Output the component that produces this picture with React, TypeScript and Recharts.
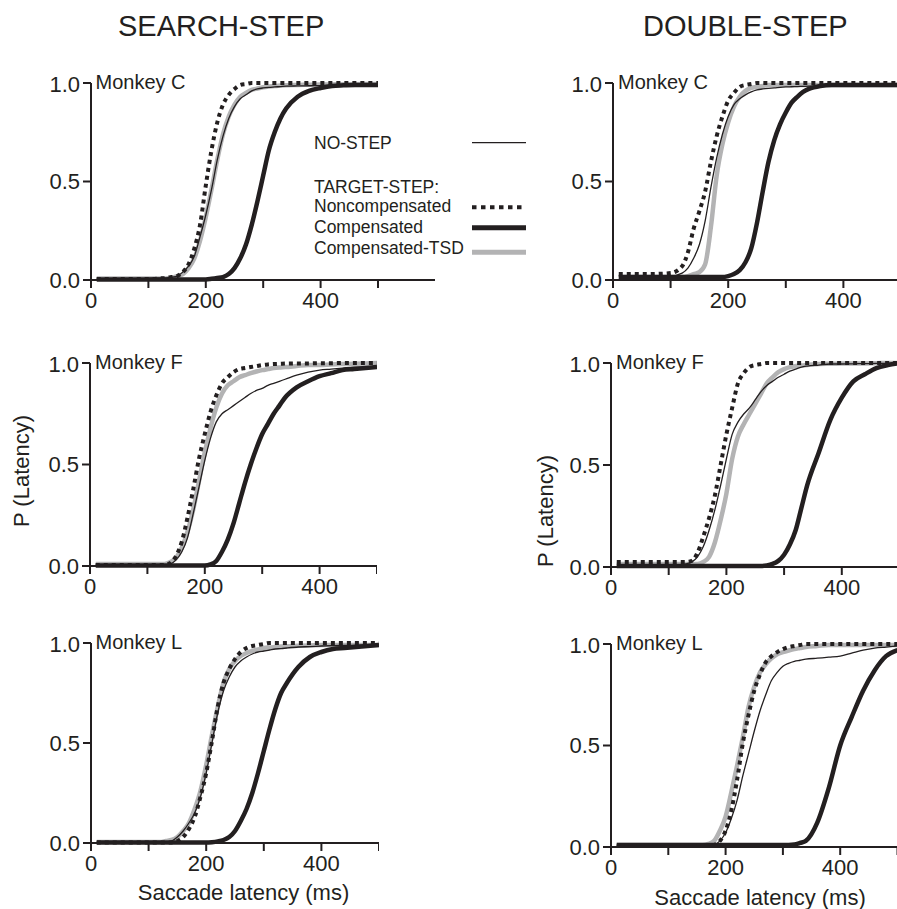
import { LineChart, Line, XAxis, YAxis } from "recharts";

// saccade latency grid (ms)
const LAT = [10, 60, 100, 120, 130, 140, 150, 160, 170, 180, 190, 200, 210, 220, 230, 240, 250, 260, 270, 280, 290, 300, 310, 320, 330, 340, 360, 380, 400, 420, 440, 460, 480, 500];

// SEARCH-STEP, monkey C
const C_SEARCH_NOSTEP = [0.005, 0.005, 0.008, 0.01, 0.01, 0.015, 0.02, 0.04, 0.07, 0.12, 0.22, 0.33, 0.46, 0.61, 0.73, 0.82, 0.88, 0.92, 0.94, 0.96, 0.97, 0.975, 0.978, 0.98, 0.982, 0.984, 0.985, 0.986, 0.987, 0.988, 0.988, 0.989, 0.99, 0.99];
const C_SEARCH_NONCOMP = [0.005, 0.005, 0.005, 0.008, 0.01, 0.015, 0.02, 0.04, 0.08, 0.16, 0.28, 0.48, 0.66, 0.8, 0.89, 0.94, 0.97, 0.99, 0.995, 1, 1, 1, 1, 1, 1, 1, 1, 1, 1, 1, 1, 1, 1, 1];
const C_SEARCH_COMP = [0.003, 0.003, 0.003, 0.003, 0.003, 0.003, 0.003, 0.003, 0.003, 0.003, 0.003, 0.003, 0.006, 0.01, 0.015, 0.03, 0.06, 0.11, 0.18, 0.28, 0.4, 0.53, 0.66, 0.75, 0.82, 0.87, 0.93, 0.96, 0.975, 0.985, 0.988, 0.99, 0.99, 0.99];
const C_SEARCH_TSD = [0.008, 0.008, 0.008, 0.008, 0.008, 0.012, 0.02, 0.03, 0.06, 0.11, 0.2, 0.32, 0.46, 0.61, 0.74, 0.83, 0.89, 0.93, 0.95, 0.965, 0.972, 0.978, 0.982, 0.985, 0.987, 0.989, 0.99, 0.991, 0.992, 0.993, 0.994, 0.994, 0.995, 0.995];

// DOUBLE-STEP, monkey C
const C_DOUBLE_NOSTEP = [0.02, 0.02, 0.02, 0.035, 0.06, 0.11, 0.18, 0.3, 0.47, 0.62, 0.74, 0.83, 0.89, 0.92, 0.94, 0.955, 0.965, 0.97, 0.973, 0.975, 0.978, 0.98, 0.981, 0.982, 0.983, 0.984, 0.985, 0.985, 0.985, 0.986, 0.986, 0.986, 0.987, 0.987];
const C_DOUBLE_NONCOMP = [0.03, 0.03, 0.035, 0.07, 0.14, 0.26, 0.35, 0.45, 0.6, 0.73, 0.83, 0.91, 0.95, 0.98, 0.99, 0.995, 1, 1, 1, 1, 1, 1, 1, 1, 1, 1, 1, 1, 1, 1, 1, 1, 1, 1];
const C_DOUBLE_COMP = [0.015, 0.015, 0.015, 0.015, 0.015, 0.015, 0.015, 0.015, 0.015, 0.015, 0.015, 0.02, 0.03, 0.05, 0.09, 0.16, 0.29, 0.45, 0.6, 0.71, 0.79, 0.85, 0.9, 0.93, 0.955, 0.97, 0.985, 0.99, 0.99, 0.99, 0.99, 0.99, 0.99, 0.99];
const C_DOUBLE_TSD = [0.015, 0.015, 0.015, 0.015, 0.02, 0.03, 0.04, 0.08, 0.27, 0.53, 0.69, 0.8, 0.88, 0.93, 0.96, 0.975, 0.98, 0.985, 0.99, 0.99, 0.99, 0.99, 0.99, 0.99, 0.99, 0.99, 0.99, 0.99, 0.99, 0.99, 0.99, 0.99, 0.99, 0.99];

// SEARCH-STEP, monkey F
const F_SEARCH_NOSTEP = [0.005, 0.005, 0.005, 0.005, 0.005, 0.01, 0.03, 0.07, 0.14, 0.26, 0.39, 0.52, 0.63, 0.71, 0.75, 0.77, 0.79, 0.81, 0.83, 0.85, 0.865, 0.875, 0.89, 0.9, 0.91, 0.92, 0.94, 0.955, 0.965, 0.97, 0.975, 0.98, 0.98, 0.985];
const F_SEARCH_NONCOMP = [0.005, 0.005, 0.005, 0.005, 0.005, 0.015, 0.05, 0.12, 0.24, 0.38, 0.53, 0.65, 0.76, 0.84, 0.9, 0.93, 0.955, 0.97, 0.975, 0.98, 0.985, 0.99, 0.993, 0.995, 0.996, 0.997, 0.998, 0.998, 0.999, 0.999, 1, 1, 1, 1];
const F_SEARCH_COMP = [0.002, 0.002, 0.002, 0.002, 0.002, 0.002, 0.002, 0.002, 0.002, 0.002, 0.002, 0.002, 0.008, 0.025, 0.07, 0.13, 0.21, 0.31, 0.41, 0.5, 0.58, 0.65, 0.7, 0.75, 0.79, 0.83, 0.88, 0.91, 0.935, 0.95, 0.965, 0.97, 0.975, 0.98];
const F_SEARCH_TSD = [0.01, 0.01, 0.01, 0.01, 0.01, 0.02, 0.04, 0.09, 0.17, 0.28, 0.42, 0.56, 0.68, 0.78, 0.85, 0.89, 0.91, 0.93, 0.94, 0.95, 0.958, 0.965, 0.97, 0.975, 0.978, 0.98, 0.985, 0.99, 0.99, 0.993, 0.995, 0.996, 0.998, 1];

// DOUBLE-STEP, monkey F
const F_DOUBLE_NOSTEP = [0.01, 0.01, 0.01, 0.01, 0.015, 0.025, 0.05, 0.1, 0.18, 0.28, 0.4, 0.53, 0.65, 0.71, 0.75, 0.78, 0.82, 0.86, 0.89, 0.91, 0.93, 0.945, 0.96, 0.97, 0.98, 0.985, 0.99, 0.995, 0.995, 0.996, 0.997, 0.998, 0.998, 0.999];
const F_DOUBLE_NONCOMP = [0.025, 0.025, 0.025, 0.025, 0.025, 0.03, 0.07, 0.15, 0.24, 0.35, 0.5, 0.65, 0.78, 0.9, 0.95, 0.98, 0.99, 0.995, 1, 1, 1, 1, 1, 1, 1, 1, 1, 1, 1, 1, 1, 1, 1, 1];
const F_DOUBLE_COMP = [0.005, 0.005, 0.005, 0.005, 0.005, 0.005, 0.005, 0.005, 0.005, 0.005, 0.005, 0.005, 0.005, 0.005, 0.005, 0.005, 0.005, 0.005, 0.008, 0.015, 0.03, 0.06, 0.11, 0.18, 0.29, 0.4, 0.56, 0.72, 0.83, 0.91, 0.945, 0.975, 0.99, 1];
const F_DOUBLE_TSD = [0.015, 0.015, 0.015, 0.015, 0.015, 0.015, 0.015, 0.025, 0.05, 0.12, 0.23, 0.36, 0.53, 0.64, 0.7, 0.75, 0.8, 0.85, 0.9, 0.93, 0.955, 0.97, 0.98, 0.985, 0.988, 0.99, 0.995, 0.996, 0.997, 0.998, 0.998, 0.999, 1, 1];

// SEARCH-STEP, monkey L
const L_SEARCH_NOSTEP = [0.005, 0.005, 0.005, 0.005, 0.005, 0.01, 0.03, 0.06, 0.1, 0.15, 0.23, 0.35, 0.5, 0.65, 0.76, 0.83, 0.88, 0.91, 0.93, 0.945, 0.955, 0.96, 0.965, 0.97, 0.972, 0.975, 0.98, 0.982, 0.985, 0.987, 0.988, 0.989, 0.99, 0.99];
const L_SEARCH_NONCOMP = [0.003, 0.003, 0.003, 0.003, 0.003, 0.003, 0.01, 0.03, 0.07, 0.13, 0.23, 0.35, 0.51, 0.68, 0.8, 0.87, 0.92, 0.955, 0.975, 0.985, 0.99, 0.995, 1, 1, 1, 1, 1, 1, 1, 1, 1, 1, 1, 1];
const L_SEARCH_COMP = [0.002, 0.002, 0.002, 0.002, 0.002, 0.002, 0.002, 0.002, 0.002, 0.002, 0.002, 0.002, 0.004, 0.008, 0.015, 0.03, 0.06, 0.11, 0.17, 0.25, 0.35, 0.46, 0.57, 0.67, 0.75, 0.8, 0.88, 0.93, 0.955, 0.97, 0.975, 0.98, 0.985, 0.99];
const L_SEARCH_TSD = [0.005, 0.005, 0.005, 0.005, 0.01, 0.015, 0.03, 0.06, 0.1, 0.17, 0.26, 0.39, 0.54, 0.68, 0.8, 0.87, 0.91, 0.935, 0.95, 0.96, 0.968, 0.975, 0.978, 0.98, 0.982, 0.984, 0.986, 0.988, 0.99, 0.99, 0.99, 0.99, 0.99, 0.99];

// DOUBLE-STEP, monkey L
const L_DOUBLE_NOSTEP = [0.005, 0.005, 0.005, 0.005, 0.005, 0.005, 0.005, 0.005, 0.005, 0.01, 0.03, 0.07, 0.14, 0.23, 0.35, 0.46, 0.57, 0.67, 0.75, 0.82, 0.86, 0.89, 0.905, 0.915, 0.92, 0.925, 0.93, 0.935, 0.94, 0.955, 0.97, 0.98, 0.985, 0.99];
const L_DOUBLE_NONCOMP = [0.005, 0.005, 0.005, 0.005, 0.005, 0.005, 0.005, 0.005, 0.005, 0.01, 0.03, 0.08, 0.18, 0.33, 0.51, 0.65, 0.77, 0.85, 0.91, 0.94, 0.96, 0.975, 0.985, 0.99, 0.995, 1, 1, 1, 1, 1, 1, 1, 1, 1];
const L_DOUBLE_COMP = [0.01, 0.01, 0.01, 0.01, 0.01, 0.01, 0.01, 0.01, 0.01, 0.01, 0.01, 0.01, 0.01, 0.01, 0.01, 0.01, 0.01, 0.01, 0.01, 0.01, 0.01, 0.01, 0.01, 0.012, 0.02, 0.03, 0.12, 0.29, 0.5, 0.64, 0.77, 0.87, 0.94, 0.97];
const L_DOUBLE_TSD = [0.01, 0.01, 0.01, 0.01, 0.01, 0.01, 0.01, 0.01, 0.015, 0.03, 0.08, 0.15, 0.27, 0.4, 0.54, 0.69, 0.79, 0.86, 0.9, 0.93, 0.95, 0.96, 0.968, 0.975, 0.98, 0.985, 0.99, 0.995, 0.995, 0.995, 0.995, 0.995, 0.995, 0.995];

const X_TICKS_SHORT = [0, 100, 200, 300, 400, 500];
const X_TICKS_LONG = [0, 100, 200, 300, 400, 500, 600];
const X_LABELS = [0, 200, 400];
const Y_TICKS = [0, 0.5, 1];

const INK = "#231f20";
const GRAY = "#b3b3b4";
const FONT = '"Liberation Sans", Arial, Helvetica, sans-serif';

type PanelProps = {
  x0: number; top: number; bottom: number; px100: number; xMax: number; ticks: number[];
  noStep: number[]; nonComp: number[]; comp: number[]; tsd: number[];
};

const YW = 80, XH = 40, MT = 12;

function Panel(p: PanelProps) {
  const plotW = (p.xMax / 100) * p.px100;
  const plotH = p.bottom - p.top;
  const data = LAT.map((lat, i) => ({
    lat, noStep: p.noStep[i], nonComp: p.nonComp[i], comp: p.comp[i], tsd: p.tsd[i],
  }));
  const axisStyle = { stroke: INK, strokeWidth: 2 };
  const tickStyle = { fill: INK, fontSize: 22, fontFamily: FONT };
  return (
    <div style={{ position: "absolute", left: p.x0 - YW, top: p.top - MT }}>
      <LineChart width={YW + plotW} height={MT + plotH + XH} data={data}
        margin={{ top: MT, right: 0, bottom: 0, left: 0 }}>
        <XAxis type="number" dataKey="lat" domain={[0, p.xMax]} ticks={p.ticks} allowDataOverflow
          tickFormatter={(v: number) => (X_LABELS.includes(v) ? String(v) : "")}
          height={XH} tickSize={8} tickMargin={4} axisLine={axisStyle} tickLine={axisStyle} tick={tickStyle} />
        <YAxis type="number" domain={[0, 1]} ticks={Y_TICKS} tickFormatter={(v: number) => v.toFixed(1)}
          width={YW} tickSize={8} tickMargin={3} axisLine={axisStyle} tickLine={axisStyle} tick={tickStyle} />
        <Line dataKey="tsd" type="monotone" stroke={GRAY} strokeWidth={4.5} dot={false} activeDot={false} isAnimationActive={false} />
        <Line dataKey="comp" type="monotone" stroke={INK} strokeWidth={4.5} dot={false} activeDot={false} isAnimationActive={false} />
        <Line dataKey="nonComp" type="monotone" stroke={INK} strokeWidth={4} strokeDasharray="4 4" dot={false} activeDot={false} isAnimationActive={false} />
        <Line dataKey="noStep" type="monotone" stroke={INK} strokeWidth={1.3} dot={false} activeDot={false} isAnimationActive={false} />
      </LineChart>
    </div>
  );
}

const PANELS = [
  { x0: 90.5, top: 83, bottom: 280, px100: 57.4, xMax: 600, ticks: X_TICKS_SHORT, monkey: "Monkey C",
    noStep: C_SEARCH_NOSTEP, nonComp: C_SEARCH_NONCOMP, comp: C_SEARCH_COMP, tsd: C_SEARCH_TSD },
  { x0: 613, top: 83, bottom: 280, px100: 57.6, xMax: 600, ticks: X_TICKS_LONG, monkey: "Monkey C",
    noStep: C_DOUBLE_NOSTEP, nonComp: C_DOUBLE_NONCOMP, comp: C_DOUBLE_COMP, tsd: C_DOUBLE_TSD },
  { x0: 90, top: 363, bottom: 566, px100: 57.4, xMax: 500, ticks: X_TICKS_SHORT, monkey: "Monkey F",
    noStep: F_SEARCH_NOSTEP, nonComp: F_SEARCH_NONCOMP, comp: F_SEARCH_COMP, tsd: F_SEARCH_TSD },
  { x0: 611, top: 363, bottom: 567, px100: 57.7, xMax: 600, ticks: X_TICKS_LONG, monkey: "Monkey F",
    noStep: F_DOUBLE_NOSTEP, nonComp: F_DOUBLE_NONCOMP, comp: F_DOUBLE_COMP, tsd: F_DOUBLE_TSD },
  { x0: 90.5, top: 643, bottom: 843, px100: 57.6, xMax: 500, ticks: X_TICKS_SHORT, monkey: "Monkey L",
    noStep: L_SEARCH_NOSTEP, nonComp: L_SEARCH_NONCOMP, comp: L_SEARCH_COMP, tsd: L_SEARCH_TSD },
  { x0: 611, top: 644, bottom: 847, px100: 57.3, xMax: 600, ticks: X_TICKS_LONG, monkey: "Monkey L",
    noStep: L_DOUBLE_NOSTEP, nonComp: L_DOUBLE_NONCOMP, comp: L_DOUBLE_COMP, tsd: L_DOUBLE_TSD },
];

export default function App() {
  return (
    <div style={{ position: "fixed", left: 0, top: 0, width: 897, height: 909, overflow: "hidden", background: "#fff" }}>
      {PANELS.map((p, i) => <Panel key={i} {...p} />)}
      <svg width={897} height={909} style={{ position: "absolute", left: 0, top: 0, pointerEvents: "none" }}
        fontFamily={FONT} fill={INK}>
        <text x={118} y={36} fontSize={29}>SEARCH-STEP</text>
        <text x={643} y={36} fontSize={29}>DOUBLE-STEP</text>
        {PANELS.map((p, i) => (
          <text key={i} x={p.x0 + 5} y={p.top + 6} fontSize={20}>{p.monkey}</text>
        ))}
        <text x={29} y={471} fontSize={22} textAnchor="middle" transform="rotate(-90 29 471)">P (Latency)</text>
        <text x={553} y={511} fontSize={22} textAnchor="middle" transform="rotate(-90 553 511)">P (Latency)</text>
        <text x={243.5} y={900} fontSize={22} textAnchor="middle">Saccade latency (ms)</text>
        <text x={760} y={905} fontSize={22} textAnchor="middle">Saccade latency (ms)</text>
        {/* legend */}
        <text x={314} y={149} fontSize={17.5}>NO-STEP</text>
        <text x={314} y={193} fontSize={17.5}>TARGET-STEP:</text>
        <text x={314} y={212} fontSize={17.5}>Noncompensated</text>
        <text x={314} y={233} fontSize={17.5}>Compensated</text>
        <text x={314} y={254} fontSize={17.5}>Compensated-TSD</text>
        <line x1={472} x2={526} y1={142.7} y2={142.7} stroke={INK} strokeWidth={1.3} />
        <line x1={472} x2={526} y1={207.3} y2={207.3} stroke={INK} strokeWidth={4} strokeDasharray="4.5 4.5" />
        <line x1={472} x2={526} y1={227.7} y2={227.7} stroke={INK} strokeWidth={5} />
        <line x1={472} x2={526} y1={252.3} y2={252.3} stroke={GRAY} strokeWidth={5} />
      </svg>
    </div>
  );
}
